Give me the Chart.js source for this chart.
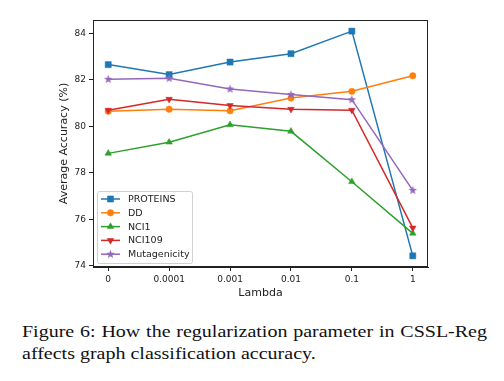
<!DOCTYPE html>
<html>
<head>
<meta charset="utf-8">
<script src="https://cdn.jsdelivr.net/npm/chart.js@4.4.0/dist/chart.umd.min.js"></script>
<style>
    html, body { margin: 0; padding: 0; background: #fff; }
    #wrap { position: relative; width: 504px; height: 381px; overflow: hidden; }
    #chart { position: absolute; left: 0; top: 0; }
    #caption {
        position: absolute; left: 22px; top: 320px; width: 465px;
        font-family: "Liberation Serif", "DejaVu Serif", serif;
        font-size: 20px; line-height: 26.5px; color: #111;
        text-align: justify;
        transform: scaleY(0.83); transform-origin: 0 0;
    }
</style>
</head>
<body>
<div id="wrap">
    <canvas id="chart" width="504" height="300"></canvas>
    <div id="caption">Figure 6: How the regularization parameter in CSSL-Reg affects graph classification accuracy.</div>
</div>
<script>
// data
const lambdas = ['0', '0.0001', '0.001', '0.01', '0.1', '1'];
const proteins = [82.66, 82.23, 82.77, 83.13, 84.10, 74.43];
const dd = [80.65, 80.74, 80.67, 81.22, 81.51, 82.18];
const nci1 = [78.84, 79.32, 80.07, 79.79, 77.62, 75.40];
const nci109 = [80.70, 81.17, 80.90, 80.74, 80.70, 75.63];
const mutagenicity = [82.03, 82.07, 81.61, 81.37, 81.15, 77.25];
const yTicks = [74, 76, 78, 80, 82, 84];

const FONT = "'DejaVu Sans', sans-serif";

// matplotlib style filled star marker
function makeStar(color, r) {
    const c = document.createElement('canvas');
    const s = Math.ceil(r * 2 + 2);
    c.width = s; c.height = s;
    const g = c.getContext('2d');
    g.beginPath();
    for (let i = 0; i < 10; i++) {
        const rad = i % 2 === 0 ? r : r * 0.42;
        const a = -Math.PI / 2 + i * Math.PI / 5;
        const px = s / 2 + rad * Math.cos(a), py = s / 2 + rad * Math.sin(a);
        if (i === 0) g.moveTo(px, py); else g.lineTo(px, py);
    }
    g.closePath();
    g.fillStyle = color;
    g.fill();
    return c;
}

function series(label, values, color, style, radius, rotation, order) {
    return {
        label: label,
        data: values.map((v, i) => ({ x: i, y: v })),
        borderColor: color,
        backgroundColor: color,
        borderWidth: 1.5,
        pointStyle: style,
        pointRadius: radius,
        pointRotation: rotation,
        pointBorderWidth: 0.5,
        pointHoverRadius: radius,
        tension: 0,
        order: order
    };
}

const datasets = [
    series('PROTEINS', proteins, '#1f77b4', 'rect', 4.3, 0, 5),
    series('DD', dd, '#ff7f0e', 'circle', 3.2, 0, 4),
    series('NCI1', nci1, '#2ca02c', 'triangle', 3.8, 0, 3),
    series('NCI109', nci109, '#d62728', 'triangle', 3.8, 180, 2),
    series('Mutagenicity', mutagenicity, '#9467bd', makeStar('#9467bd', 4.5), 4.5, 0, 1)
];

// axes frame + legend in the lower left, like matplotlib
const framePlugin = {
    id: 'frame',
    afterDraw(chart) {
        const ctx = chart.ctx;
        const a = chart.chartArea;
        ctx.save();
        ctx.strokeStyle = '#222';
        ctx.lineWidth = 1;
        ctx.strokeRect(a.left + 0.5, a.top + 0.5, a.right - a.left - 1, a.bottom - a.top - 1);

        // legend box
        const bx = 97, by = 191, bw = 95, bh = 72;
        ctx.beginPath();
        ctx.roundRect(bx + 0.5, by + 0.5, bw, bh, 2);
        ctx.fillStyle = 'rgba(255,255,255,0.8)';
        ctx.fill();
        ctx.strokeStyle = '#d0d0d0';
        ctx.stroke();

        chart.data.datasets.forEach((ds, row) => {
            const y = by + 8 + row * 13.8;
            ctx.strokeStyle = ds.borderColor;
            ctx.lineWidth = 1.5;
            ctx.beginPath();
            ctx.moveTo(101, y);
            ctx.lineTo(120, y);
            ctx.stroke();
            ctx.fillStyle = ds.backgroundColor;
            ctx.lineWidth = 0.5;
            Chart.helpers.drawPoint(ctx, {
                pointStyle: ds.pointStyle,
                rotation: ds.pointRotation,
                radius: ds.pointRadius,
                borderWidth: 0.5
            }, 110.5, y);
            ctx.fillStyle = '#222';
            ctx.font = '9.5px ' + FONT;
            ctx.textBaseline = 'middle';
            ctx.textAlign = 'left';
            ctx.fillText(ds.label, 128, y + 0.5);
        });
        ctx.restore();
    }
};

const ctx = document.getElementById('chart').getContext('2d');
const chart = new Chart(ctx, {
    type: 'line',
    data: { datasets: datasets },
    plugins: [framePlugin],
    options: {
        responsive: false,
        animation: false,
        events: [],
        layout: { padding: { left: 58, top: 20, right: 76, bottom: 0 } },
        plugins: {
            legend: { display: false },
            tooltip: { enabled: false }
        },
        scales: {
            x: {
                type: 'linear',
                min: -0.25,
                max: 5.25,
                afterBuildTicks(scale) {
                    scale.ticks = lambdas.map((_, i) => ({ value: i }));
                },
                afterFit(scale) { scale.height = 33; },
                ticks: {
                    callback: (v) => lambdas[v],
                    font: { family: FONT, size: 9 },
                    color: '#222',
                    padding: 3,
                    maxRotation: 0,
                    autoSkip: false
                },
                grid: {
                    drawOnChartArea: false,
                    tickLength: 4,
                    tickColor: '#222',
                    color: '#222'
                },
                border: { color: '#222' },
                title: {
                    display: true,
                    text: 'Lambda',
                    font: { family: FONT, size: 11 },
                    color: '#222',
                    padding: { top: 0, bottom: 0 }
                }
            },
            y: {
                type: 'linear',
                min: 73.95,
                max: 84.58,
                afterBuildTicks(scale) {
                    scale.ticks = yTicks.map(v => ({ value: v }));
                },
                afterFit(scale) { scale.width = 35; },
                ticks: {
                    font: { family: FONT, size: 9 },
                    color: '#222',
                    padding: 3
                },
                grid: {
                    drawOnChartArea: false,
                    tickLength: 4,
                    tickColor: '#222',
                    color: '#222'
                },
                border: { color: '#222' },
                title: {
                    display: true,
                    text: 'Average Accuracy (%)',
                    font: { family: FONT, size: 11 },
                    color: '#222',
                    padding: { top: 0, bottom: 0 }
                }
            }
        }
    }
});
</script>
</body>
</html>
